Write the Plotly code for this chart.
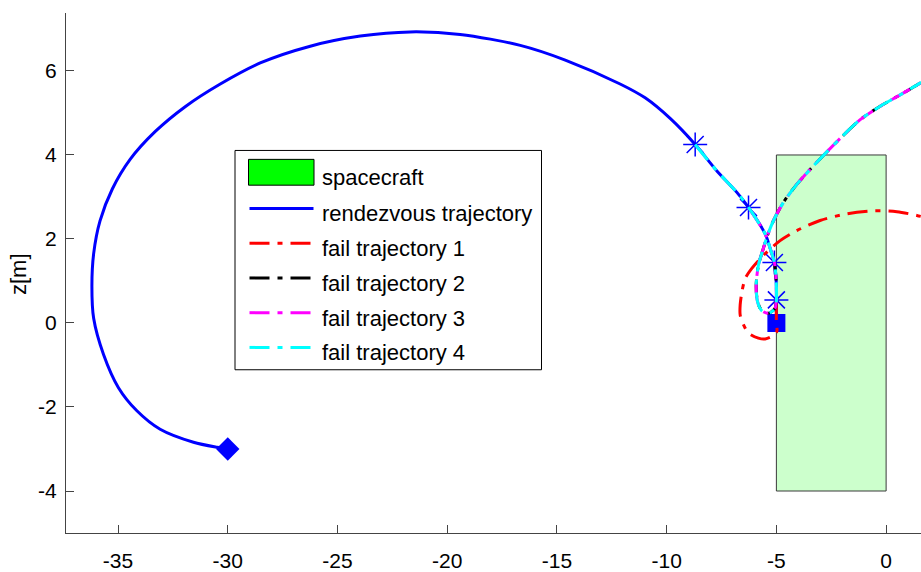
import plotly.graph_objects as go

# ---------------- data ----------------
# outer arc of the rendezvous trajectory (start diamond -> first failure point)
arc_x = [-30.0, -30.49, -31.56, -33.08, -34.14, -34.98, -35.66, -36.11, -36.19, -36.11,
         -35.82, -35.26, -34.44, -33.30, -31.94, -30.34, -28.52, -26.24, -23.96, -21.69,
         -19.41, -16.67, -14.62, -12.12, -10.98, -9.84]
arc_y = [-3.0, -2.96, -2.84, -2.53, -2.09, -1.54, -0.75, 0.11, 0.89, 1.65,
         2.43, 3.19, 3.90, 4.56, 5.15, 5.69, 6.19, 6.59, 6.83, 6.93,
         6.87, 6.61, 6.26, 5.69, 5.36, 4.87]
# final approach (star 1 -> star 4), shared by the rendezvous and fail trajectories
approach_x = [-8.70, -7.71, -6.80, -6.27, -5.51, -5.28, -5.09, -5.01, -5.0]
approach_y = [4.25, 3.62, 3.11, 2.75, 2.12, 1.77, 1.44, 1.00, 0.55]
# docking point
target_x = [-5.0]
target_y = [0.0]
# failure points (stars)
star_x = [-8.70, -6.27, -5.09, -5.0]
star_y = [4.25, 2.75, 1.44, 0.55]
# loop + escape shared by fail trajectories 2, 3, 4
escape_x = [-5.06, -5.36, -5.66, -5.86, -5.92, -5.82, -5.62, -5.41, -5.13, -4.68,
            -4.07, -3.31, -2.10, -1.18, -0.27, 0.64, 1.55, 2.0]
escape_y = [0.35, 0.23, 0.29, 0.51, 0.90, 1.37, 1.73, 2.08, 2.44, 2.87,
            3.30, 3.74, 4.39, 4.84, 5.16, 5.43, 5.71, 5.84]
# fail trajectory 1
fail1_x = [-5.0, -5.0, -4.98, -5.21, -5.51, -5.82, -6.27, -6.50, -6.65, -6.65,
           -6.57, -6.42, -6.12, -5.59, -4.83, -4.07, -3.01, -1.79, -0.58, 0.49, 1.40, 2.0]
fail1_y = [0.55, 0.0, -0.20, -0.32, -0.38, -0.36, -0.24, -0.04, 0.19, 0.43,
           0.74, 1.06, 1.30, 1.61, 1.96, 2.20, 2.44, 2.60, 2.67, 2.65, 2.56, 2.48]
# failure point index (into approach) where fail trajectories 2, 3, 4 start
fail_start = {"fail trajectory 2": 6, "fail trajectory 3": 3, "fail trajectory 4": 0}
# spacecraft box
craft_x = [-5, 0, 0, -5, -5]
craft_y = [-4, -4, 4, 4, -4]

x_ticks = [-35, -30, -25, -20, -15, -10, -5, 0]
x_ticktext = ["-35", "-30", "-25", "-20", "-15", "-10", "-5", "0"]
y_ticks = [-4, -2, 0, 2, 4, 6]
y_ticktext = ["-4", "-2", "0", "2", "4", "6"]

legend_labels = ["spacecraft", "rendezvous trajectory", "fail trajectory 1",
                 "fail trajectory 2", "fail trajectory 3", "fail trajectory 4"]
fail_colors = {"fail trajectory 1": "#ff0000", "fail trajectory 2": "#000000",
               "fail trajectory 3": "#ff00ff", "fail trajectory 4": "#00ffff"}
# dash-dot patterns (slightly different lengths so overlapping curves interleave)
fail_dash = {"fail trajectory 1": "20px,8px,5px,8px", "fail trajectory 2": "18px,8px,4px,8px",
             "fail trajectory 3": "22px,8px,5px,8px", "fail trajectory 4": "20px,8px,5px,8px"}

# ---------------- figure ----------------
W, H = 921, 572
ML, MR, MT, MB = 66, 0, 13, 35
FONT = "Liberation Sans, Arial, Helvetica, sans-serif"

fig = go.Figure()

fig.add_trace(go.Scatter(x=craft_x, y=craft_y, fill="toself",
                         fillcolor="rgba(0,255,0,0.2)", mode="lines",
                         line=dict(color="#3a3a3a", width=1), name="spacecraft",
                         showlegend=False, hoverinfo="skip"))

rv_x = arc_x + approach_x + target_x
rv_y = arc_y + approach_y + target_y
fig.add_trace(go.Scatter(x=rv_x, y=rv_y, mode="lines",
                         line=dict(color="#0000ff", width=3, shape="spline", smoothing=0.8),
                         name="rendezvous trajectory", showlegend=False))

fig.add_trace(go.Scatter(x=[arc_x[0]], y=[arc_y[0]], mode="markers",
                         marker=dict(symbol="diamond", size=18, color="#0000ff"),
                         showlegend=False))
fig.add_trace(go.Scatter(x=star_x, y=star_y, mode="markers",
                         marker=dict(symbol="asterisk-open", size=20, color="#0000ff",
                                     line=dict(color="#0000ff", width=1.5)),
                         showlegend=False))
fig.add_trace(go.Scatter(x=target_x, y=target_y, mode="markers",
                         marker=dict(symbol="square", size=15, color="#0000ff",
                                     line=dict(color="#0000ff", width=3)),
                         showlegend=False))

fig.add_trace(go.Scatter(x=fail1_x, y=fail1_y, mode="lines",
                         line=dict(color=fail_colors["fail trajectory 1"], width=3,
                                   dash=fail_dash["fail trajectory 1"],
                                   shape="spline", smoothing=0.8),
                         name="fail trajectory 1", showlegend=False))
for name in ["fail trajectory 2", "fail trajectory 3", "fail trajectory 4"]:
    i0 = fail_start[name]
    fx = approach_x[i0:] + escape_x
    fy = approach_y[i0:] + escape_y
    fig.add_trace(go.Scatter(x=fx, y=fy, mode="lines",
                             line=dict(color=fail_colors[name], width=3, dash=fail_dash[name],
                                       shape="spline", smoothing=0.8),
                             name=name, showlegend=False))

# ---------------- legend (drawn as box, swatches and text) ----------------
PW, PH = W - ML - MR, H - MT - MB
def px(x):
    return (x - ML) / PW
def py(y):
    return (H - MB - y) / PH

shapes = []
annotations = []
shapes.append(dict(type="rect", xref="paper", yref="paper",
                   x0=px(235), x1=px(541.5), y0=py(372.5), y1=py(151.5),
                   line=dict(color="#000000", width=1), fillcolor="#ffffff", layer="above"))
shapes.append(dict(type="rect", xref="paper", yref="paper",
                   x0=px(248.5), x1=px(314), y0=py(186.5), y1=py(160.5),
                   line=dict(color="#000000", width=1), fillcolor="#00ff00", layer="above"))
row_y = [173.5, 210, 245, 280, 315, 350]
line_styles = [None, ("#0000ff", "solid")] + [(fail_colors[n], "20px,8px,5px,8px")
                                              for n in legend_labels[2:]]
for k, lab in enumerate(legend_labels):
    if line_styles[k] is not None:
        c, d = line_styles[k]
        shapes.append(dict(type="line", xref="paper", yref="paper",
                           x0=px(249.5), x1=px(313.5), y0=py(row_y[k]), y1=py(row_y[k]),
                           line=dict(color=c, width=3, dash=d), layer="above"))
    annotations.append(dict(text=lab, xref="paper", yref="paper",
                            x=px(320), y=py(row_y[k] + 5.5), xanchor="left", yanchor="middle",
                            showarrow=False, font=dict(family=FONT, size=22, color="#000000")))

# y-axis label
annotations.append(dict(text="z[m]", xref="paper", yref="paper", x=px(19), y=py(276),
                        xanchor="center", yanchor="middle", textangle=-90, showarrow=False,
                        font=dict(family=FONT, size=22, color="#000000")))

fig.update_layout(
    width=W, height=H,
    margin=dict(l=ML, r=MR, t=MT, b=MB, pad=0),
    paper_bgcolor="#ffffff", plot_bgcolor="#ffffff",
    font=dict(family=FONT, size=21, color="#000000"),
    showlegend=False,
    shapes=shapes, annotations=annotations,
    xaxis=dict(range=[-37.37, 1.59], tickmode="array", tickvals=x_ticks, ticktext=x_ticktext,
               ticks="inside", ticklen=8, tickcolor="#444444", tickwidth=1,
               showline=True, linecolor="#444444", linewidth=1, mirror=False,
               showgrid=False, zeroline=False, ticklabelstandoff=9),
    yaxis=dict(range=[-5.0, 7.38], tickmode="array", tickvals=y_ticks, ticktext=y_ticktext,
               ticks="inside", ticklen=8, tickcolor="#444444", tickwidth=1,
               showline=True, linecolor="#444444", linewidth=1, mirror=False,
               showgrid=False, zeroline=False, ticklabelstandoff=4),
)

fig.write_html("out.html", config={"displayModeBar": False},
               post_script="document.body.style.margin='0';document.body.style.overflow='hidden';")
